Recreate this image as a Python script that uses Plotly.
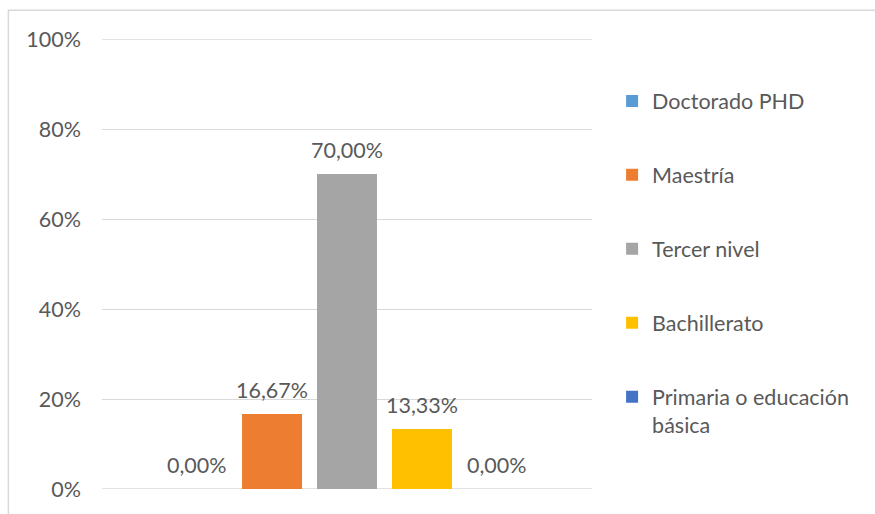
import plotly.graph_objects as go

# Nivel de instrucción: porcentaje de encuestados por nivel
series = ["Doctorado PHD", "Maestría", "Tercer nivel", "Bachillerato",
          "Primaria o educación<br>básica"]
values = [0.0, 16.67, 70.00, 13.33, 0.0]
colors = ["#5B9BD5", "#ED7D31", "#A5A5A5", "#FFC000", "#4472C4"]
category = [""]
tick_vals = [0, 20, 40, 60, 80, 100]
tick_text = ["0%", "20%", "40%", "60%", "80%", "100%"]

FONT = "Lato, 'Open Sans', sans-serif"
FS = 21.5
TXT = "#595959"
GRID = "#D9D9D9"
BARGAP = 0.235
GROUPGAP = 0.2

fig = go.Figure()
for i, (name, v, c) in enumerate(zip(series, values, colors)):
    fig.add_trace(go.Bar(
        x=category, y=[v], name=name, marker_color=c,
        marker_line_width=0, legendgroup=f"g{i}",
    ))

# value labels above each bar, placed at the grouped-bar offsets
n = len(series)
slot = (1 - BARGAP) / n
for i, v in enumerate(values):
    fig.add_annotation(
        x=(i - (n - 1) / 2) * slot, y=v, xref="x", yref="y",
        text=f"{v:.2f}%".replace(".", ","), showarrow=False,
        yanchor="bottom", yshift=9,
        font=dict(family=FONT, size=FS, color=TXT),
    )

# gridlines at the ends of the value range
for yv in (tick_vals[0], tick_vals[-1]):
    fig.add_shape(type="line", xref="paper", yref="y", x0=0, x1=1,
                  y0=yv, y1=yv, line=dict(color=GRID, width=1.3),
                  layer="below")

# outer chart frame
fig.add_shape(type="rect", xref="paper", yref="paper",
              x0=-0.191, x1=1.7, y0=-0.2, y1=1.064,
              line=dict(color=GRID, width=1.5), layer="below")

fig.update_layout(
    width=875, height=514,
    margin=dict(l=102, r=283, t=39, b=23),
    paper_bgcolor="white", plot_bgcolor="white",
    barmode="group", bargap=BARGAP, bargroupgap=GROUPGAP,
    font=dict(family=FONT, size=FS, color=TXT),
    showlegend=True,
    legend=dict(
        x=1.041, xanchor="left", y=0.908, yanchor="top",
        tracegroupgap=43, valign="top",
        font=dict(family=FONT, size=FS, color=TXT),
        bgcolor="rgba(0,0,0,0)",
    ),
    xaxis=dict(showticklabels=False, showgrid=False, zeroline=False,
               showline=False, ticks=""),
    yaxis=dict(range=[0, 100], tickvals=tick_vals, ticktext=tick_text,
               showgrid=True, gridcolor=GRID, gridwidth=1.3,
               zeroline=False, showline=False, ticks="",
               ticklabelstandoff=20,
               tickfont=dict(family=FONT, size=FS, color=TXT)),
)

fig.write_html("out.html")
